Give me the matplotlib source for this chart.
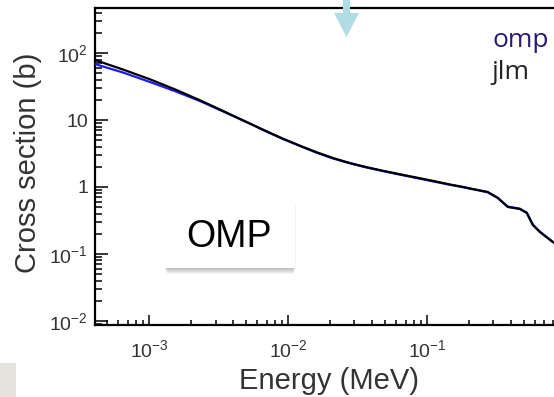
import numpy as np
from matplotlib import pyplot as plt
from matplotlib.patches import Rectangle, FancyArrow
from matplotlib.ticker import LogLocator, FixedLocator, FixedFormatter, NullFormatter

plt.rcParams['font.family'] = ['Liberation Sans', 'DejaVu Sans']
plt.rcParams['mathtext.fontset'] = 'custom'
plt.rcParams['mathtext.rm'] = 'Liberation Sans'
plt.rcParams['mathtext.it'] = 'Liberation Sans'

# elastic cross sections, energies in MeV, sigma in barns
E_jlm = [4.06e-4, 6.41e-4, 1.01e-3, 1.53e-3, 2.32e-3, 3.52e-3, 5.32e-3,
         6.98e-3, 9.18e-3, 1.22e-2, 1.61e-2, 2.11e-2, 2.78e-2, 3.65e-2,
         4.80e-2, 6.37e-2, 8.43e-2, 0.111, 0.146, 0.178, 0.213, 0.273,
         0.323, 0.381, 0.465, 0.522, 0.577, 0.648, 0.803, 1.0]
sig_jlm = [78.7, 57.1, 40.6, 28.7, 19.7, 13.2, 8.83,
           6.79, 5.26, 4.12, 3.29, 2.70, 2.28, 1.98,
           1.75, 1.55, 1.38, 1.23, 1.09, 1.01, 0.933, 0.842,
           0.685, 0.503, 0.470, 0.409, 0.271, 0.213, 0.151, 0.115]

E_omp = E_jlm
sig_omp = [68.5, 51.5, 37.0, 27.0, 19.2, 13.0, 8.80,
           6.72, 5.20, 4.08, 3.24, 2.66, 2.26, 1.96,
           1.73, 1.53, 1.36, 1.21, 1.08, 1.0, 0.928, 0.836,
           0.69, 0.51, 0.475, 0.415, 0.275, 0.216, 0.152, 0.116]

x_major = [1e-3, 1e-2, 1e-1]
x_labels = [r'$10^{-3}$', r'$10^{-2}$', r'$10^{-1}$']
y_major = [1e-2, 1e-1, 1, 10, 100]
y_labels = [r'$10^{-2}$', r'$10^{-1}$', '1', '10', r'$10^{2}$']

W, H = 554, 397
fig = plt.figure(figsize=(W / 100, H / 100), dpi=100)

# axes run past the right edge of the canvas
ax = fig.add_axes([95 / W, (H - 325) / H, (566 - 95) / W, (325 - 8) / H])
ax.set_xscale('log')
ax.set_yscale('log')
ax.plot(E_omp, sig_omp, color='#1a1aff', lw=1.6, zorder=3)
ax.plot(E_jlm, sig_jlm, color='black', lw=1.6, zorder=4)
ax.set_xlim(4.07e-4, 1.0)
ax.set_ylim(10 ** -2.06, 10 ** 2.672)

ax.xaxis.set_major_locator(FixedLocator(x_major))
ax.xaxis.set_major_formatter(FixedFormatter(x_labels))
ax.yaxis.set_major_locator(FixedLocator(y_major))
ax.yaxis.set_major_formatter(FixedFormatter(y_labels))
for a in (ax.xaxis, ax.yaxis):
    a.set_minor_locator(LogLocator(base=10, subs=np.arange(2, 10)))
    a.set_minor_formatter(NullFormatter())

for s in ax.spines.values():
    s.set_linewidth(1.6)
ax.spines['right'].set_visible(False)
ax.tick_params(axis='both', which='both', direction='in', width=1.1,
               colors='black', labelcolor='#333333', labelsize=14)
ax.tick_params(axis='x', which='major', length=7.5, pad=10)
ax.tick_params(axis='x', which='minor', length=3.8)
ax.tick_params(axis='y', which='major', length=9.5, pad=5)
ax.tick_params(axis='y', which='minor', length=5)
ax.tick_params(top=False, right=False, which='both')

fig.text(28 / W, 1 - 163 / H, 'Cross section (b)', rotation=90, fontsize=21,
         color='#333333', ha='center', va='center')
fig.text(329 / W, 1 - 381 / H, 'Energy (MeV)', fontsize=21,
         color='#333333', ha='center', va='center')

# series labels
fig.text(492 / W, 1 - 47 / H, 'omp', fontsize=19, color='#2a1a72',
         family='Open Sans', ha='left', va='baseline')
fig.text(491 / W, 1 - 79 / H, 'jlm', fontsize=19, color='#222222',
         family='Open Sans', ha='left', va='baseline')

# boxed OMP tag with a soft shadow underneath
bx0, by0, bx1, by1 = 163, 202, 295, 268
for k in range(6):
    off = 6 - k
    fig.patches.append(Rectangle(((bx0 + 4 - k * 0.5) / W, 1 - (by1 + off) / H),
                                 (bx1 - bx0 - 6 + k) / W, (by1 - by0) / H,
                                 transform=fig.transFigure, facecolor='black',
                                 edgecolor='none', alpha=0.045, zorder=5))
fig.patches.append(Rectangle((bx0 / W, 1 - by1 / H), (bx1 - bx0) / W,
                             (by1 - by0) / H, transform=fig.transFigure,
                             facecolor='white', edgecolor='none', zorder=6))
fig.text((bx0 + bx1) / 2 / W, 1 - 237 / H, 'OMP', fontsize=27,
         color='black', ha='center', va='center', zorder=7)

# pointer arrow at the top
fig.patches.append(FancyArrow(346.5 / W, 1.0, 0, -37 / H, width=7 / W,
                              head_width=25 / W, head_length=24 / H,
                              length_includes_head=True,
                              transform=fig.transFigure, facecolor='#b0dce3',
                              edgecolor='none', zorder=8))

# grey strip in the lower left corner
fig.patches.append(Rectangle((0, 0), 16 / W, (H - 363) / H,
                             transform=fig.transFigure, facecolor='#e4e4dc',
                             edgecolor='none', zorder=1))

fig.savefig('out.png', dpi=100)
